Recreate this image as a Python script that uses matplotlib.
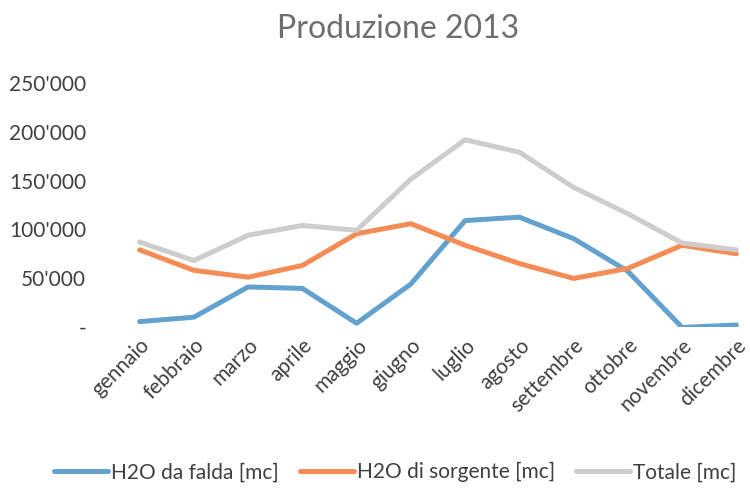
import matplotlib
matplotlib.use('Agg')
import matplotlib.pyplot as plt

plt.rcParams['font.family'] = ['Lato', 'DejaVu Sans']

mesi = ['gennaio', 'febbraio', 'marzo', 'aprile', 'maggio', 'giugno',
        'luglio', 'agosto', 'settembre', 'ottobre', 'novembre', 'dicembre']

# values (mc)
falda = [5500, 10000, 41000, 39500, 3800, 44000,
         109000, 112500, 90500, 57000, -500, 2000]
sorgente = [79000, 58000, 51000, 63000, 95500, 105800,
            83700, 65000, 49700, 60000, 83700, 75000]
totale = [87000, 68000, 94000, 104000, 99000, 151500,
          191800, 179000, 143000, 116000, 86000, 79000]

yticks = [0, 50000, 100000, 150000, 200000, 250000]
ytick_labels = ['-', "50'000", "100'000", "150'000", "200'000", "250'000"]

fig = plt.figure(figsize=(7.5, 4.88), dpi=100)
ax = fig.add_axes([0.150, 0.330, 0.868, 0.500])

x = range(len(mesi))
ax.plot(x, falda, color='#63a2cf', lw=3.6, label='H2O da falda [mc]', solid_capstyle='round')
ax.plot(x, sorgente, color='#f58c55', lw=3.6, label='H2O di sorgente [mc]', solid_capstyle='round')
ax.plot(x, totale, color='#cdcdcd', lw=3.6, label='Totale [mc]', solid_capstyle='round')

ax.set_xlim(-0.5, 11.5)
ax.set_ylim(0, 250000)
ax.set_yticks(yticks)
ax.set_yticklabels(ytick_labels)
ax.set_xticks(list(x))
ax.set_xticklabels(mesi, rotation=45, ha='right', rotation_mode='anchor')
ax.tick_params(axis='both', length=0, labelsize=15, labelcolor='#404040')
ax.tick_params(axis='y', pad=19)
ax.tick_params(axis='x', pad=6)
for s in ax.spines.values():
    s.set_visible(False)

fig.text(0.531, 0.940, 'Produzione 2013', ha='center', va='center',
         fontsize=23, color='#6e6e6e')

leg = fig.legend(loc='center', bbox_to_anchor=(0.527, 0.032), ncol=3, frameon=False,
                 fontsize=15, handlelength=2.6, handletextpad=0.15, columnspacing=1.0)
for t in leg.get_texts():
    t.set_color('#404040')

plt.savefig('out.png')
